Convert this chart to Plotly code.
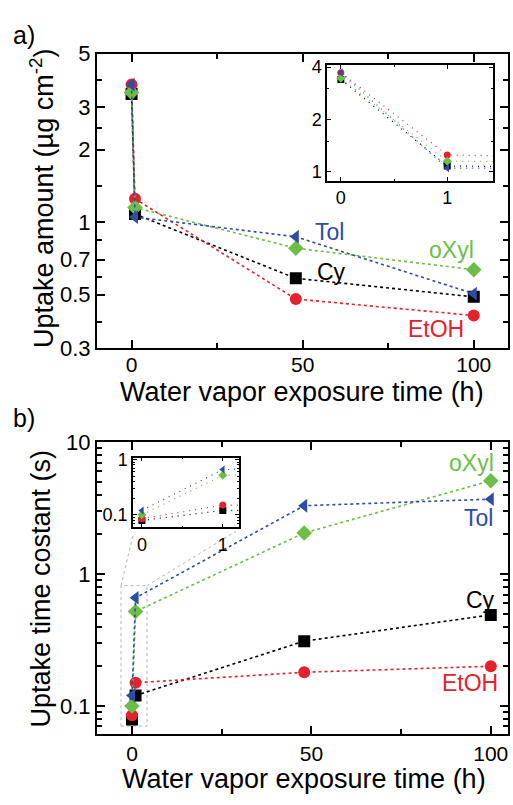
import math
import plotly.graph_objects as go

# ---------------- data ----------------
time_h = [0, 1, 48, 100]

uptake_cy = [3.40, 1.08, 0.585, 0.49]
uptake_etoh = [3.72, 1.25, 0.48, 0.41]
uptake_oxyl = [3.45, 1.15, 0.78, 0.635]
uptake_tol = [3.72, 1.05, 0.87, 0.505]

tau_cy = [0.079, 0.12, 0.31, 0.49]
tau_etoh = [0.085, 0.15, 0.18, 0.20]
tau_oxyl = [0.10, 0.52, 2.05, 5.1]
tau_tol = [0.12, 0.66, 3.3, 3.7]

series_names = ["Cy", "EtOH", "oXyl", "Tol"]
colors = {"Cy": "#000000", "EtOH": "#e5222b", "oXyl": "#6cbf46", "Tol": "#2f4ca6"}
symbols = {"Cy": "square", "EtOH": "circle", "oXyl": "diamond", "Tol": "triangle-left"}
uptake = {"Cy": uptake_cy, "EtOH": uptake_etoh, "oXyl": uptake_oxyl, "Tol": uptake_tol}
tau = {"Cy": tau_cy, "EtOH": tau_etoh, "oXyl": tau_oxyl, "Tol": tau_tol}

x_ticks = [0, 50, 100]
x_minor = [25, 75]
top_y_ticks = [0.3, 0.5, 0.7, 1, 2, 3, 5]
top_y_minor = [0.387, 0.59, 0.84, 1.41, 2.45, 3.87]
bot_y_ticks = [0.1, 1, 10]
bot_y_minor = [0.07, 0.08, 0.09, 0.2, 0.3, 0.4, 0.5, 0.6, 0.7, 0.8, 0.9,
               2, 3, 4, 5, 6, 7, 8, 9]
in1_y_ticks = [1, 2, 4]
in1_y_minor = [1.5, 3]
in2_y_ticks = [0.1, 1]
in2_y_minor = [0.06, 0.07, 0.08, 0.09, 0.2, 0.3, 0.4, 0.5, 0.6, 0.7, 0.8, 0.9]
in_x_ticks = [0, 1]

W, H = 513, 805
FONT = "Liberation Sans, Arial, sans-serif"


def px(x):
    return x / W


def py(y):
    return 1 - y / H


fig = go.Figure()

panels = [
    ("x", "y", uptake, 12, dict(width=1.6, dash="dot")),
    ("x2", "y2", uptake, 7, dict(width=1.2, dash="1px,5px")),
    ("x3", "y3", tau, 12, dict(width=1.6, dash="dot")),
    ("x4", "y4", tau, 7, dict(width=1.2, dash="1px,5px")),
]
for xa, ya, data, msize, ldict in panels:
    for name in series_names:
        fig.add_trace(go.Scatter(
            x=time_h, y=data[name], xaxis=xa, yaxis=ya,
            mode="lines+markers", name=name, showlegend=False,
            line=dict(color=colors[name], **ldict),
            marker=dict(symbol=symbols[name], size=msize, color=colors[name],
                        line=dict(width=0)),
            cliponaxis=True,
        ))


def main_axis(domain, rng, tickvals, minor_vals, log=False, anchor=None, fsize=22,
              standoff=None):
    d = dict(
        domain=domain, range=rng, tickmode="array", tickvals=tickvals,
        ticktext=[("%g" % v) for v in tickvals],
        ticks="inside", ticklen=8, tickwidth=2, tickcolor="black",
        showline=True, linewidth=2, linecolor="black", mirror="allticks",
        showgrid=False, zeroline=False,
        tickfont=dict(family=FONT, size=fsize, color="black"),
        minor=dict(tickmode="array", tickvals=minor_vals, ticks="inside",
                   ticklen=5, tickwidth=2, tickcolor="black", showgrid=False),
    )
    if standoff is not None:
        d["ticklabelstandoff"] = standoff
    if log:
        d["type"] = "log"
    if anchor:
        d["anchor"] = anchor
    return d


def inset_axis(domain, rng, tickvals, minor_vals, log=False, anchor=None):
    d = dict(
        domain=domain, range=rng, tickmode="array", tickvals=tickvals,
        ticktext=[("%g" % v) for v in tickvals],
        ticks="inside", ticklen=4, tickwidth=1.2, tickcolor="black",
        showline=True, linewidth=1.5, linecolor="black", mirror="allticks",
        showgrid=False, zeroline=False,
        tickfont=dict(family=FONT, size=18, color="black"),
        minor=dict(tickmode="array", tickvals=minor_vals, ticks="inside",
                   ticklen=2, tickwidth=1, tickcolor="black", showgrid=False),
    )
    if log:
        d["type"] = "log"
    if anchor:
        d["anchor"] = anchor
    return d


lg = math.log10

fig.update_layout(
    width=W, height=H, margin=dict(l=0, r=0, t=0, b=0),
    paper_bgcolor="white", plot_bgcolor="white",
    font=dict(family=FONT, color="black"),
    xaxis=main_axis([px(97), px(508)], [-10.1, 110], x_ticks, x_minor, anchor="y",
                    fsize=21, standoff=-3),
    yaxis=main_axis([py(347), py(43)], [lg(0.3), lg(5)], top_y_ticks, top_y_minor,
                    log=True, anchor="x"),
    xaxis2=inset_axis([px(327), px(493)], [-0.13, 1.43], in_x_ticks, [0.5], anchor="y2"),
    yaxis2=inset_axis([py(174), py(55)], [lg(0.89), lg(4.1)], in1_y_ticks, in1_y_minor,
                      log=True, anchor="x2"),
    xaxis3=main_axis([px(97), px(508)], [-9.75, 104.8], x_ticks, x_minor, anchor="y3",
                     fsize=21),
    yaxis3=main_axis([py(745), py(444)], [lg(0.0614), 1.0], bot_y_ticks, bot_y_minor,
                     log=True, anchor="x3"),
    xaxis4=inset_axis([px(133), px(239)], [-0.11, 1.2], in_x_ticks, [0.5], anchor="y4"),
    yaxis4=inset_axis([py(532), py(460)], [lg(0.059), lg(1.08)], in2_y_ticks, in2_y_minor,
                      log=True, anchor="x4"),
)

# zoom-indicator dotted grey lines (bottom panel)
grey = "rgba(150,150,150,0.7)"
fig.add_shape(type="rect", xref="paper", yref="paper",
              x0=px(121), x1=px(147), y0=py(737), y1=py(592),
              line=dict(color=grey, width=1, dash="dot"), layer="below")
fig.add_shape(type="line", xref="paper", yref="paper",
              x0=px(121), y0=py(592), x1=px(133), y1=py(540),
              line=dict(color=grey, width=1, dash="dot"), layer="below")
fig.add_shape(type="line", xref="paper", yref="paper",
              x0=px(147), y0=py(592), x1=px(236), y1=py(536),
              line=dict(color=grey, width=1, dash="dot"), layer="below")

annots = []


def ann(text, x, y, size, color="black", angle=0):
    annots.append(dict(text=text, x=px(x), y=py(y), xref="paper", yref="paper",
                       xanchor="center", yanchor="middle", showarrow=False,
                       textangle=angle,
                       font=dict(family=FONT, size=size, color=color)))


ann("a)", 24, 24, 25)
ann("b)", 24, 419, 25)
ann("Uptake amount (µg cm<sup>-2</sup>)", 42, 193, 27, angle=-90)
ann("Uptake time costant (s)", 41, 595, 27, angle=-90)
ann("Water vapor exposure time (h)", 302, 392, 27)
ann("Water vapor exposure time (h)", 304, 792, 27)

ann("Tol", 329, 227, 23, colors["Tol"])
ann("oXyl", 451, 246, 23, colors["oXyl"])
ann("Cy", 331, 268, 23, colors["Cy"])
ann("EtOH", 436, 327, 23, colors["EtOH"])

ann("oXyl", 471, 465, 23, colors["oXyl"])
ann("Tol", 478, 522, 23, colors["Tol"])
ann("Cy", 480, 607, 23, colors["Cy"])
ann("EtOH", 470, 692, 23, colors["EtOH"])

fig.update_layout(annotations=annots)

fig.write_html("out.html")
